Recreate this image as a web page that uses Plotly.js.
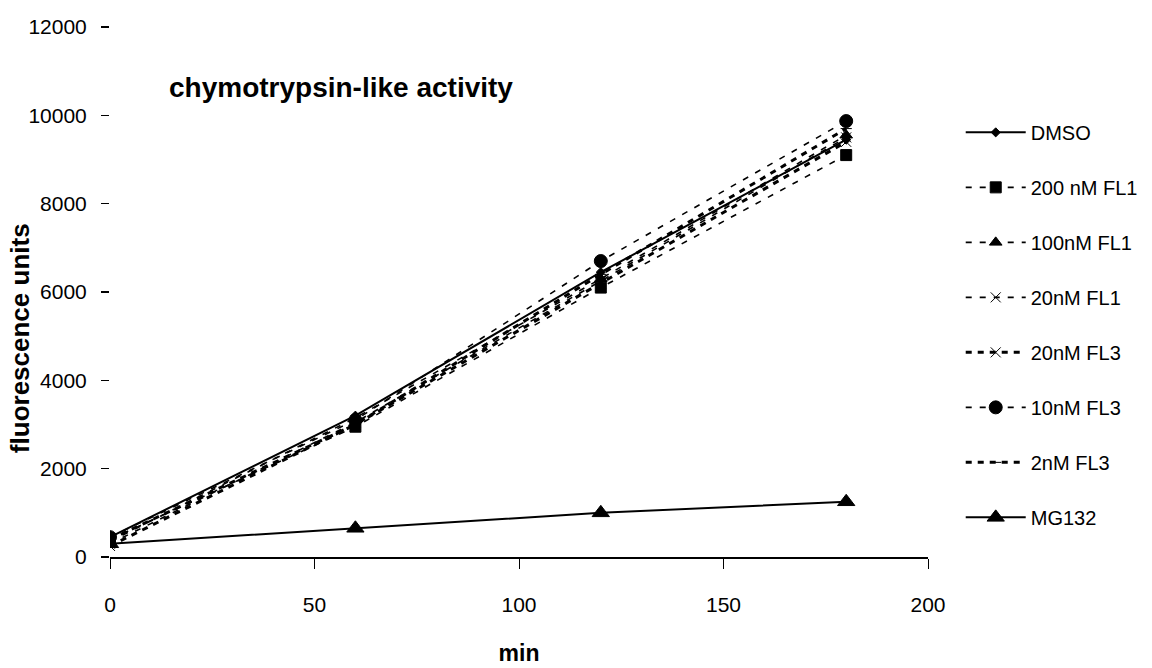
<!DOCTYPE html>
<html><head><meta charset="utf-8">
<script src="https://cdn.plot.ly/plotly-3.0.1.min.js"></script>
<style>html,body{margin:0;padding:0;background:#fff}#chart{width:1152px;height:668px}</style>
</head><body><div id="chart"></div>
<script>
const minutes = [0, 60, 120, 180];
const seriesNames = ["DMSO", "200 nM FL1", "100nM FL1", "20nM FL1", "20nM FL3", "10nM FL3", "2nM FL3", "MG132"];
const dmso     = [450, 3200, 6450, 9450];
const fl1_200  = [400, 2950, 6100, 9100];
const fl1_100  = [350, 3150, 6300, 9550];
const fl1_20   = [300, 3050, 6250, 9500];
const fl3_20   = [250, 3000, 6200, 9400];
const fl3_10   = [450, 3100, 6700, 9870];
const fl3_2    = [400, 3000, 6400, 9700];
const mg132    = [300, 650, 1000, 1250];
const seriesValues = [dmso, fl1_200, fl1_100, fl1_20, fl3_20, fl3_10, fl3_2, mg132];
const xTicks = [0, 50, 100, 150, 200];
const yTicks = [0, 2000, 4000, 6000, 8000, 10000, 12000];

const styles = [
  {dash: "solid", width: 2, symbol: "diamond", size: 7},
  {dash: "6px,8px", width: 1.6, symbol: "square", size: 11},
  {dash: "6px,8px", width: 1.6, symbol: "triangle-up", size: 11},
  {dash: "6px,8px", width: 1.6, symbol: "x-thin-open", size: 10},
  {dash: "6px,6px", width: 3, symbol: "x-thin-open", size: 10},
  {dash: "6px,8px", width: 1.6, symbol: "circle", size: 13},
  {dash: "6px,6px", width: 3, symbol: "line-ew", size: 8},
  {dash: "solid", width: 2, symbol: "triangle-up", size: 15}
];

const traces = seriesNames.map((n, i) => ({
  x: minutes, y: seriesValues[i], name: n, type: "scatter", mode: "lines+markers",
  legendgroup: "g" + i,
  line: {color: "#000", width: styles[i].width, dash: styles[i].dash},
  marker: {color: "#000", symbol: styles[i].symbol, size: styles[i].size, line: {color: "#000", width: 1}}
}));

const font = "Liberation Sans, Arial, sans-serif";
const layout = {
  width: 1152, height: 668,
  paper_bgcolor: "#fff", plot_bgcolor: "#fff",
  margin: {l: 110, r: 224, t: 27, b: 111, autoexpand: false},
  font: {family: font, color: "#000", size: 21},
  showlegend: true,
  legend: {x: 1.04, xanchor: "left", y: 0.838, yanchor: "top", tracegroupgap: 26,
           font: {size: 20, family: font}, itemwidth: 60, bgcolor: "rgba(0,0,0,0)"},
  xaxis: {range: [0, 200], tickvals: xTicks, ticktext: xTicks.map(String),
          showgrid: false, zeroline: false, showline: true, linecolor: "#000", linewidth: 2,
          ticks: "outside", ticklen: 10, tickwidth: 1, tickcolor: "#000",
          tickfont: {size: 21}, ticklabelstandoff: 18,
          title: {text: "<b>min</b>", font: {size: 23}, standoff: 30}},
  yaxis: {range: [0, 12000], tickvals: yTicks, ticktext: yTicks.map(String),
          showgrid: false, zeroline: false, showline: false,
          ticks: "outside", ticklen: 8, tickwidth: 1.5, tickcolor: "#000",
          tickfont: {size: 21}, ticklabelstandoff: 10},
  annotations: [
    {text: "<b>chymotrypsin-like activity</b>", xref: "x", yref: "y",
     x: 14, y: 10620, xanchor: "left", yanchor: "middle", showarrow: false, font: {size: 28}},
    {text: "<b>fluorescence units</b>", xref: "paper", yref: "paper", textangle: -90,
     x: -0.11, y: 0.413, xanchor: "center", yanchor: "middle", showarrow: false, font: {size: 26}}
  ]
};
Plotly.newPlot("chart", traces, layout, {displayModeBar: false, staticPlot: true});
</script></body></html>
